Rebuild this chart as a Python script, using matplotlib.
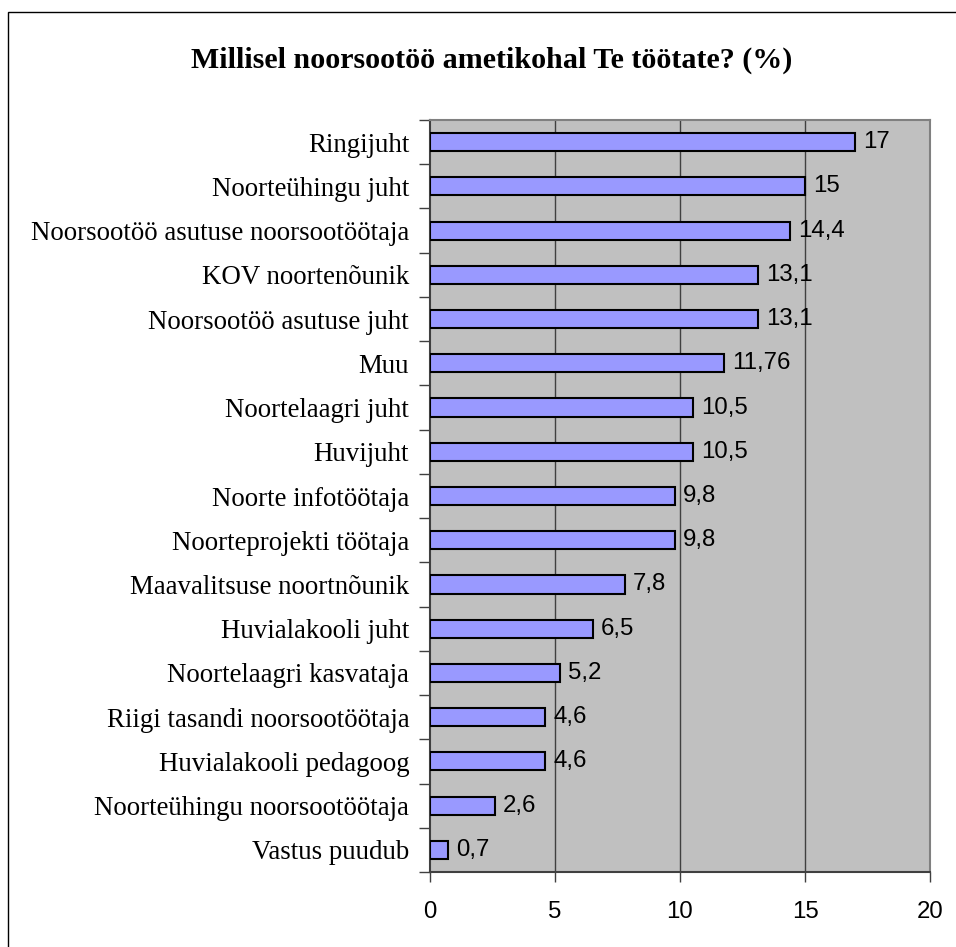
import matplotlib
matplotlib.use("Agg")
import matplotlib.pyplot as plt
from matplotlib.patches import Rectangle

categories = [
    "Ringijuht", "Noorteühingu juht", "Noorsootöö asutuse noorsootöötaja",
    "KOV noortenõunik", "Noorsootöö asutuse juht", "Muu", "Noortelaagri juht",
    "Huvijuht", "Noorte infotöötaja", "Noorteprojekti töötaja",
    "Maavalitsuse noortnõunik", "Huvialakooli juht", "Noortelaagri kasvataja",
    "Riigi tasandi noorsootöötaja", "Huvialakooli pedagoog",
    "Noorteühingu noorsootöötaja", "Vastus puudub",
]
values = [17, 15, 14.4, 13.1, 13.1, 11.76, 10.5, 10.5, 9.8, 9.8, 7.8, 6.5, 5.2, 4.6, 4.6, 2.6, 0.7]
value_labels = ["17", "15", "14,4", "13,1", "13,1", "11,76", "10,5", "10,5", "9,8", "9,8",
                "7,8", "6,5", "5,2", "4,6", "4,6", "2,6", "0,7"]
xticks = [0, 5, 10, 15, 20]
title = "Millisel noorsootöö ametikohal Te töötate? (%)"

W, H = 956, 947
fig = plt.figure(figsize=(W / 100, H / 100), dpi=100)
fig.patch.set_facecolor("white")

# outer frame
fig.add_artist(Rectangle((8 / W, -0.1), 1.2, (H - 12) / H + 0.1, transform=fig.transFigure,
                         fill=False, edgecolor="black", linewidth=1.0))

ax = fig.add_axes([430 / W, 1 - 872 / H, 500 / W, 752 / H])
ax.set_facecolor("#C0C0C0")

n = len(categories)
ypos = list(range(n - 1, -1, -1))
ax.barh(ypos, values, height=0.41, color="#9999FF", edgecolor="black", linewidth=1.5, zorder=3)
for y, v, lab in zip(ypos, values, value_labels):
    ax.text(v + 0.33, y, lab, va="center", ha="left", fontsize=17.3,
            family="Liberation Sans", color="black", zorder=4)

ax.set_xlim(0, 20)
ax.set_ylim(-0.5, n - 0.5)
ax.set_xticks(xticks)
ax.set_xticklabels([str(t) for t in xticks], family="Liberation Sans", fontsize=17.3)
ax.tick_params(axis="x", length=7, width=1, pad=14, color="#404040")

ax.set_yticks(ypos)
ax.set_yticklabels(categories, family="Liberation Serif", fontsize=19.4)
ax.set_yticks([i - 0.5 for i in range(n + 1)], minor=True)
ax.tick_params(axis="y", which="major", length=0, pad=15)
ax.tick_params(axis="y", which="minor", length=8, width=1, color="#404040")

for gx in [5, 10, 15]:
    ax.axvline(gx, color="#404040", linewidth=1.0, zorder=1)

for side in ["top", "right"]:
    ax.spines[side].set_color("#808080")
    ax.spines[side].set_linewidth(1.5)
for side in ["left", "bottom"]:
    ax.spines[side].set_color("#404040")
    ax.spines[side].set_linewidth(1.5)

fig.text(492 / W, 1 - 60 / H, title, ha="center", va="center", fontsize=21.6,
         family="Liberation Serif", fontweight="bold")

fig.savefig("out.png", dpi=100)
